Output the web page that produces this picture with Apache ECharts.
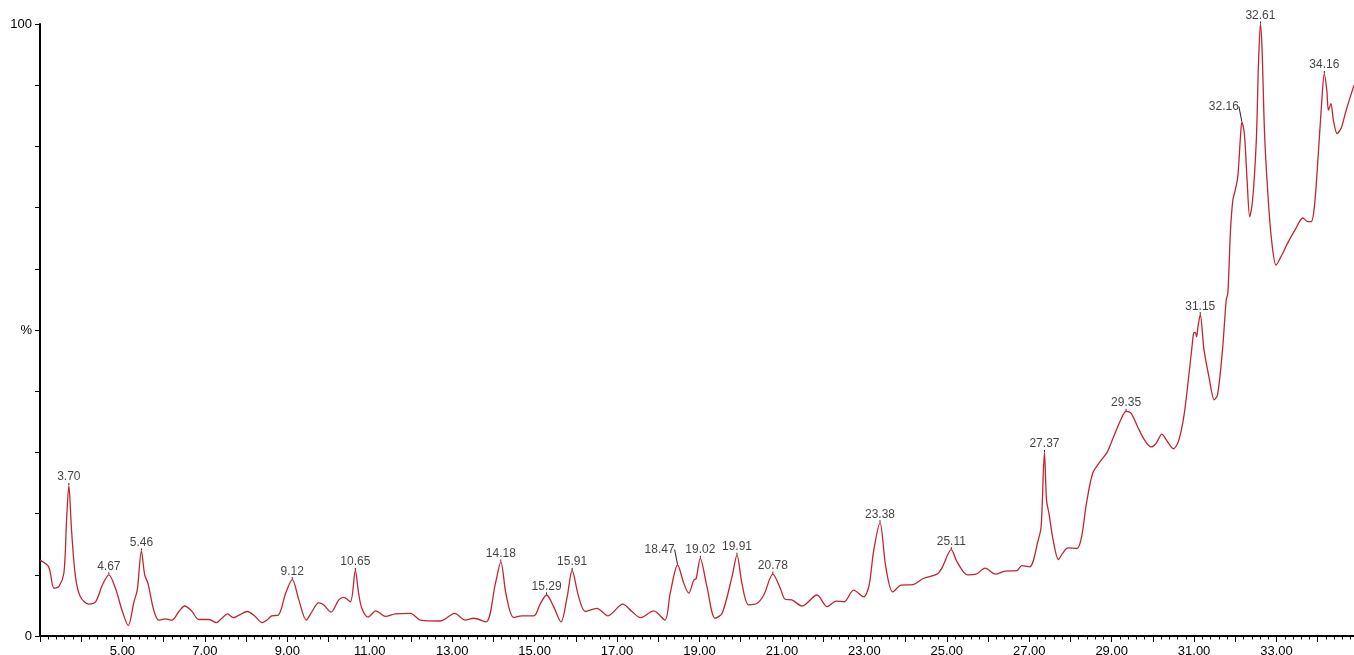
<!DOCTYPE html>
<html>
<head>
<meta charset="utf-8">
<script src="https://cdn.jsdelivr.net/npm/echarts@6/dist/echarts.min.js"></script>
<style>
html,body{margin:0;padding:0;background:#fff;}
#chart{width:1354px;height:655px;}
</style>
</head>
<body>
<div id="chart"></div>
<script>
// Retention time (min)
const times = [
  3.00, 3.21, 3.34, 3.46, 3.58, 3.645, 3.70, 3.765, 3.86, 3.98,
  4.18, 4.35, 4.51, 4.67, 4.83, 4.99, 5.14, 5.28, 5.36, 5.46,
  5.54, 5.62, 5.76, 5.88, 6.04, 6.20, 6.37, 6.51, 6.68, 6.85,
  7.10, 7.28, 7.41, 7.55, 7.69, 7.83, 8.03, 8.22, 8.39, 8.51,
  8.62, 8.78, 8.96, 9.12, 9.28, 9.46, 9.60, 9.76, 9.88, 10.06,
  10.25, 10.37, 10.53, 10.65, 10.73, 10.81, 10.96, 11.15, 11.38, 11.62,
  11.99, 12.23, 12.72, 13.06, 13.32, 13.52, 13.82, 14.05, 14.18, 14.31,
  14.49, 14.69, 14.98, 15.14, 15.29, 15.46, 15.64, 15.79, 15.91, 16.07,
  16.23, 16.51, 16.78, 17.14, 17.36, 17.57, 17.89, 18.16, 18.29, 18.47,
  18.62, 18.74, 18.86, 18.92, 19.02, 19.18, 19.38, 19.55, 19.79, 19.91,
  20.03, 20.19, 20.39, 20.56, 20.78, 20.96, 21.08, 21.24, 21.49, 21.85,
  22.10, 22.32, 22.51, 22.74, 22.98, 23.11, 23.23, 23.38, 23.52, 23.69,
  23.89, 24.18, 24.43, 24.76, 24.88, 25.11, 25.25, 25.50, 25.71, 25.93,
  26.18, 26.41, 26.70, 26.82, 27.01, 27.22, 27.29, 27.37, 27.42, 27.48,
  27.58, 27.71, 27.81, 27.94, 28.16, 28.27, 28.39, 28.54, 28.72, 28.89,
  29.05, 29.22, 29.35, 29.47, 29.63, 29.80, 29.96, 30.08, 30.22, 30.33,
  30.50, 30.62, 30.75, 30.87, 30.95, 30.99, 31.03, 31.06, 31.10, 31.15,
  31.24, 31.36, 31.49, 31.57, 31.69, 31.78, 31.82, 31.88, 31.94, 32.00,
  32.06, 32.12, 32.16, 32.22, 32.29, 32.35, 32.42, 32.51, 32.56, 32.61,
  32.65, 32.71, 32.79, 32.88, 32.99, 33.11, 33.27, 33.47, 33.64, 33.76,
  33.84, 33.92, 34.02, 34.10, 34.16, 34.22, 34.26, 34.32, 34.38, 34.47,
  34.57, 34.69, 34.88
];
// Relative intensity (%)
const intensity = [
  12.4, 11.3, 7.8, 8.1, 10.3, 19.0, 24.6, 17.3, 9.7, 6.4,
  5.2, 5.6, 8.3, 10.0, 7.8, 4.2, 1.7, 5.6, 7.5, 13.9,
  10.0, 8.6, 4.2, 2.6, 2.8, 2.6, 4.0, 4.9, 4.1, 2.7,
  2.7, 2.2, 2.9, 3.6, 3.0, 3.4, 4.0, 3.2, 2.2, 2.6,
  3.3, 3.4, 7.0, 9.2, 5.9, 2.6, 4.0, 5.4, 5.1, 3.9,
  5.9, 6.3, 5.6, 10.7, 7.0, 4.5, 3.1, 4.1, 3.2, 3.6,
  3.7, 2.6, 2.45, 3.7, 2.6, 2.9, 2.3, 8.6, 12.1, 6.7,
  3.05, 3.3, 3.3, 5.3, 6.7, 4.8, 2.3, 6.4, 10.7, 6.4,
  4.0, 4.5, 3.3, 5.2, 4.0, 3.0, 4.1, 2.6, 7.0, 11.6,
  8.6, 7.0, 9.1, 9.4, 12.7, 8.1, 2.9, 3.7, 9.7, 13.2,
  8.6, 5.1, 5.3, 6.7, 10.1, 7.8, 6.0, 5.9, 4.9, 6.7,
  4.8, 5.7, 5.6, 7.5, 6.4, 8.1, 14.1, 18.5, 11.3, 7.2,
  8.3, 8.4, 9.4, 10.1, 11.1, 14.1, 12.1, 10.0, 10.1, 11.1,
  10.1, 10.6, 10.7, 11.5, 11.3, 15.7, 17.9, 30.0, 22.2, 20.0,
  15.7, 12.5, 13.5, 14.4, 14.3, 16.2, 21.7, 26.6, 28.5, 30.0,
  32.6, 35.3, 36.7, 36.4, 34.2, 32.0, 30.9, 31.5, 33.0, 32.0,
  30.6, 31.8, 35.8, 42.4, 47.3, 49.5, 49.6, 48.9, 50.8, 52.5,
  46.8, 42.4, 38.6, 39.4, 46.8, 54.9, 56.0, 65.8, 71.2, 72.9,
  75.0, 81.0, 84.0, 82.1, 74.0, 68.5, 71.2, 81.0, 93.0, 100.0,
  95.8, 82.1, 72.3, 64.7, 60.6, 62.0, 64.2, 66.6, 68.3, 67.7,
  67.7, 70.2, 79.4, 87.6, 91.9, 89.2, 85.9, 87.0, 84.3, 82.1,
  83.0, 85.9, 90.0
];
// Labelled peaks (retention times)
const peakLabels = ['3.70','4.67','5.46','9.12','10.65','14.18','15.29','15.91','18.47','19.02',
  '19.91','20.78','23.38','25.11','27.37','29.35','31.15','32.16','32.61','34.16'];
// Peaks whose label is pulled aside with a leader line
const leaderPeaks = ['18.47','32.16'];
// Axis tick labels
const xTickLabels = ['5.00','7.00','9.00','11.00','13.00','15.00','17.00','19.00','21.00','23.00','25.00','27.00','29.00','31.00','33.00'];
const yTickLabels = {0:'0', 50:'%', 100:'100'};

const FONT = '"Liberation Sans", Arial, sans-serif';
const lineData = times.map((t, i) => [t, intensity[i]]);
const peakData = peakLabels.map(lbl => {
  const t = parseFloat(lbl);
  let idx = 0, best = Infinity;
  times.forEach((tt, i) => { const d = Math.abs(tt - t); if (d < best) { best = d; idx = i; } });
  return { value: [times[idx], intensity[idx]], name: lbl };
});

const chart = echarts.init(document.getElementById('chart'), null, {renderer: 'canvas'});
chart.setOption({
  animation: false,
  backgroundColor: '#ffffff',
  grid: {left: 40, right: 0, top: 24, bottom: 19, containLabel: false, outerBoundsMode: 'none'},
  xAxis: {
    type: 'value', min: 3, max: 34.88, interval: 1,
    axisLine: {show: true, onZero: false, lineStyle: {color: '#000', width: 2}},
    axisTick: {show: true, length: 6, lineStyle: {color: '#000', width: 1}},
    minorTick: {show: true, splitNumber: 5, length: 3.5, lineStyle: {color: '#000', width: 1}},
    splitLine: {show: false},
    axisLabel: {
      margin: 9, color: '#000', fontSize: 13, fontFamily: FONT,
      showMinLabel: false, showMaxLabel: false, hideOverlap: false,
      formatter: v => { const s = v.toFixed(2); return xTickLabels.indexOf(s) >= 0 ? s : ''; }
    }
  },
  yAxis: {
    type: 'value', min: 0, max: 100, interval: 10,
    axisLine: {show: true, lineStyle: {color: '#000', width: 2}},
    axisTick: {show: true, length: 5, lineStyle: {color: '#000', width: 1}},
    splitLine: {show: false},
    axisLabel: {
      margin: 8, color: '#000', fontSize: 13, fontFamily: FONT,
      formatter: v => (yTickLabels[Math.round(v)] !== undefined ? yTickLabels[Math.round(v)] : '')
    }
  },
  series: [
    {
      type: 'line', data: lineData, showSymbol: false, smooth: 0.3,
      lineStyle: {color: '#bf2630', width: 1.3}, clip: true, z: 2
    },
    {
      type: 'scatter', data: peakData, symbolSize: 1,
      itemStyle: {color: 'rgba(0,0,0,0)'}, z: 3, silent: true,
      label: {
        show: true, position: 'top', distance: 2,
        formatter: p => p.name, color: '#111', fontSize: 12, fontFamily: FONT
      },
      labelLine: {show: true, lineStyle: {color: '#222', width: 1}},
      labelLayout: p => {
        const name = peakData[p.dataIndex].name;
        if (leaderPeaks.indexOf(name) >= 0) return {dx: -18, dy: -7};
        return {};
      }
    }
  ]
});
</script>
</body>
</html>
